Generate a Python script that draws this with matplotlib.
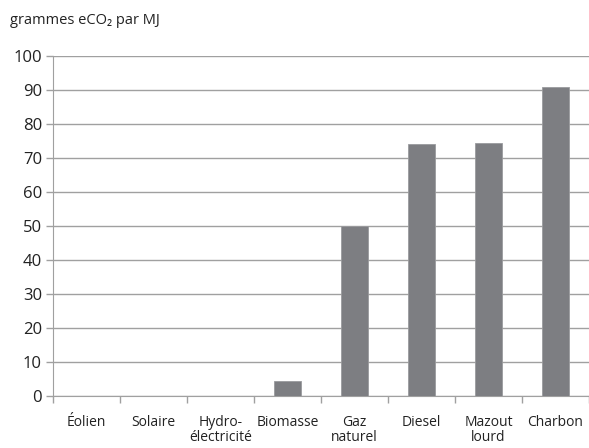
import numpy as np
from matplotlib import pyplot as plt

plt.rcParams['font.family'] = ['Open Sans', 'DejaVu Sans']

categories = ['Éolien', 'Solaire', 'Hydro-\nélectricité', 'Biomasse',
              'Gaz\nnaturel', 'Diesel', 'Mazout\nlourd', 'Charbon']
valeurs = [0, 0, 0, 4.5, 50, 74, 74.5, 91]
yticks = [0, 10, 20, 30, 40, 50, 60, 70, 80, 90, 100]

fig = plt.figure(figsize=(5.89, 4.48), dpi=100)
ax = fig.add_axes([0.09, 0.116, 0.91, 0.759])

x = np.arange(len(categories))
ax.bar(x, valeurs, width=0.4, color='#7d7e82', edgecolor='#9a9b9e',
       linewidth=0.6, zorder=3)

ax.set_xlim(-0.5, len(categories) - 0.5)
ax.set_ylim(0, 100)
ax.set_yticks(yticks)
ax.set_yticklabels([str(v) for v in yticks], fontsize=12, color='#222222')
ax.set_xticks(x)
ax.set_xticklabels(categories, fontsize=10, color='#222222', linespacing=1.0)
ax.set_xticks(np.arange(-0.5, len(categories)), minor=True)
ax.tick_params(axis='x', which='major', length=0, pad=14)
ax.tick_params(axis='x', which='minor', length=5, color='#a0a0a0', width=1)
ax.tick_params(axis='y', length=5, color='#a0a0a0', width=1, pad=3)

ax.grid(axis='y', color='#a0a0a0', linewidth=1, zorder=0)
for s in ['top', 'right']:
    ax.spines[s].set_visible(False)
ax.spines['left'].set_color('#a0a0a0')
ax.spines['bottom'].set_color('#a0a0a0')

fig.text(0.017, 0.955, 'grammes eCO₂ par MJ', fontsize=10.5, color='#222222',
         va='center', ha='left')

fig.savefig('out.png', dpi=100)
